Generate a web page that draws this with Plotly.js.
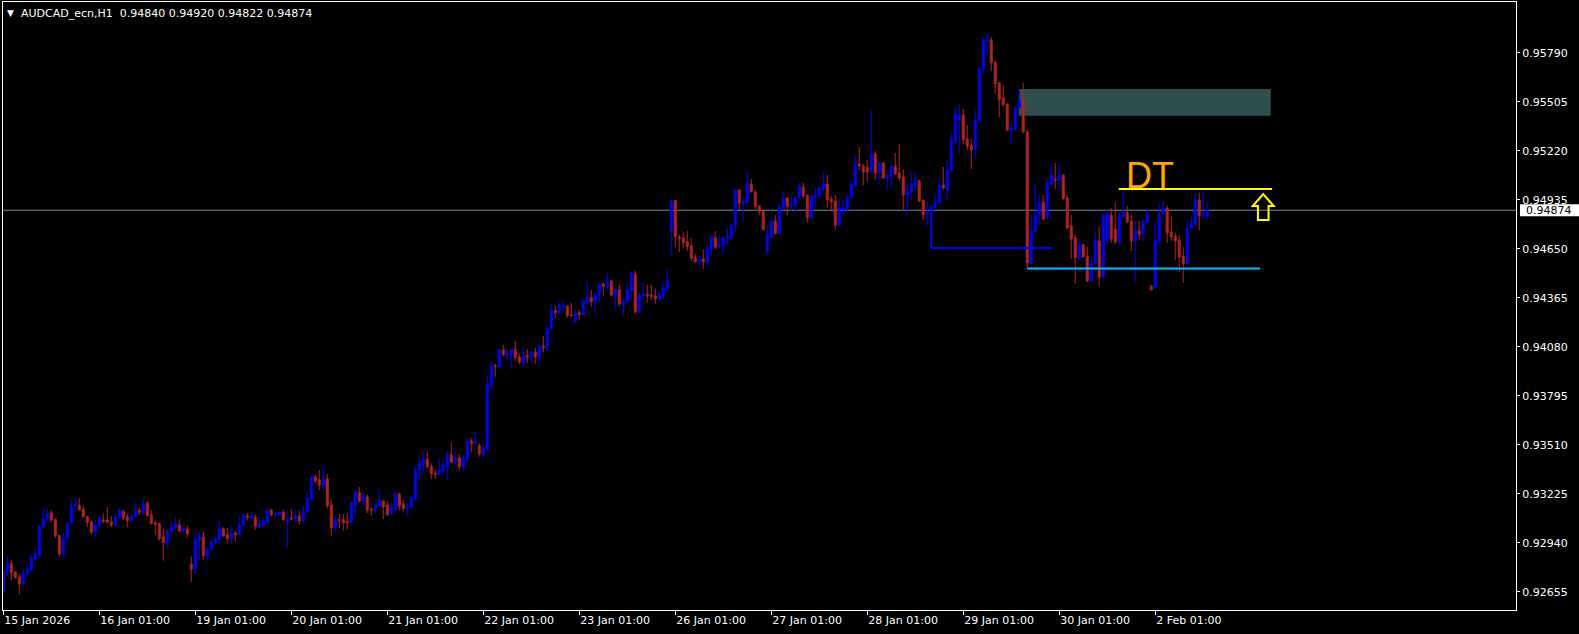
<!DOCTYPE html>
<html><head><meta charset="utf-8">
<script src="https://cdn.plot.ly/plotly-3.0.1.min.js"></script>
<style>html,body{margin:0;padding:0;background:#000;overflow:hidden}#chart{width:1579px;height:634px}</style>
</head><body><div id="chart"></div>
<script>
const symbolTitle = 'AUDCAD_ecn,H1\u00A0 0.94840 0.94920 0.94822 0.94874';
const lastPrice = 0.94874;

const openP = [
0.92655,0.92772,0.92820,0.92770,0.92741,0.92702,0.92762,0.92785,0.92847,0.92869,
0.93030,0.93076,0.93113,0.93076,0.92983,0.92876,0.92962,0.93053,0.93154,0.93159,
0.93136,0.93092,0.93061,0.93002,0.93041,0.93072,0.93072,0.93061,0.93041,0.93088,
0.93123,0.93090,0.93068,0.93092,0.93126,0.93115,0.93171,0.93101,0.93057,0.93051,
0.92975,0.92937,0.93006,0.93026,0.93043,0.93010,0.93020,0.92816,0.92787,0.92952,
0.92973,0.92865,0.92900,0.92940,0.92960,0.93020,0.92985,0.92962,0.92997,0.92987,
0.93041,0.93096,0.93086,0.93088,0.93032,0.93041,0.93057,0.93131,0.93103,0.93103,
0.93117,0.93067,0.93084,0.93080,0.93096,0.93067,0.93121,0.93192,0.93322,0.93307,
0.93274,0.93311,0.93160,0.93028,0.93074,0.93074,0.93063,0.93057,0.93160,0.93230,
0.93183,0.93206,0.93135,0.93133,0.93156,0.93183,0.93160,0.93109,0.93133,0.93224,
0.93166,0.93139,0.93148,0.93195,0.93360,0.93394,0.93427,0.93385,0.93344,0.93338,
0.93361,0.93387,0.93451,0.93410,0.93433,0.93381,0.93427,0.93532,0.93517,0.93505,
0.93451,0.93484,0.93858,0.93970,0.93963,0.94062,0.94034,0.94034,0.94062,0.94021,
0.93992,0.94029,0.94023,0.94050,0.94021,0.94085,0.94075,0.94186,0.94288,0.94275,
0.94312,0.94317,0.94265,0.94226,0.94277,0.94265,0.94343,0.94368,0.94343,0.94383,
0.94445,0.94426,0.94463,0.94377,0.94411,0.94323,0.94343,0.94405,0.94503,0.94282,
0.94377,0.94387,0.94381,0.94376,0.94358,0.94381,0.94416,0.94750,0.94930,0.94719,
0.94711,0.94690,0.94666,0.94602,0.94573,0.94590,0.94573,0.94646,0.94714,0.94660,
0.94672,0.94708,0.94714,0.94784,0.94992,0.94916,0.94916,0.95026,0.94980,0.94898,
0.94869,0.94639,0.94714,0.94811,0.94737,0.94889,0.94945,0.94898,0.94904,0.94945,
0.95009,0.94962,0.94831,0.94951,0.94957,0.94997,0.95026,0.94939,0.94928,0.94788,
0.94875,0.94881,0.94945,0.95015,0.95143,0.95131,0.95125,0.95096,0.95201,0.95090,
0.95149,0.95061,0.95073,0.95131,0.95090,0.95067,0.94963,0.94975,0.95021,0.95045,
0.94934,0.94847,0.94864,0.94893,0.94917,0.95021,0.94992,0.95103,0.95277,0.95399,
0.95428,0.95289,0.95254,0.95225,0.95394,0.95696,0.95859,0.95865,0.95733,0.95615,
0.95527,0.95492,0.95341,0.95347,0.95469,0.95516,0.95330,0.94568,0.94750,0.94843,
0.94922,0.94829,0.95027,0.95056,0.95050,0.95079,0.94946,0.94783,0.94713,0.94591,
0.94672,0.94608,0.94463,0.94566,0.94695,0.94486,0.94701,0.94847,0.94765,0.94690,
0.94835,0.94858,0.94812,0.94695,0.94754,0.94740,0.94806,0.94434,0.94422,0.94692,
0.94853,0.94887,0.94748,0.94724,0.94701,0.94608,0.94562,0.94771,0.94789,0.94934,
0.94841,0.94840];

const highP = [
0.92781,0.92863,0.92836,0.92774,0.92760,0.92785,0.92809,0.92878,0.92902,0.93037,
0.93142,0.93134,0.93130,0.93082,0.92983,0.92995,0.93057,0.93185,0.93204,0.93200,
0.93157,0.93095,0.93072,0.93072,0.93095,0.93111,0.93148,0.93095,0.93111,0.93142,
0.93132,0.93107,0.93099,0.93177,0.93146,0.93200,0.93181,0.93130,0.93068,0.93057,
0.93018,0.93014,0.93061,0.93088,0.93076,0.93037,0.93041,0.92859,0.93008,0.93006,
0.93003,0.92921,0.92966,0.92983,0.93072,0.93030,0.93026,0.93037,0.93010,0.93099,
0.93105,0.93113,0.93123,0.93105,0.93090,0.93088,0.93131,0.93134,0.93117,0.93119,
0.93131,0.93127,0.93134,0.93131,0.93127,0.93154,0.93227,0.93332,0.93336,0.93363,
0.93375,0.93340,0.93195,0.93103,0.93107,0.93107,0.93113,0.93175,0.93239,0.93265,
0.93228,0.93220,0.93148,0.93166,0.93245,0.93183,0.93181,0.93172,0.93236,0.93230,
0.93189,0.93175,0.93212,0.93389,0.93445,0.93474,0.93474,0.93402,0.93367,0.93433,
0.93416,0.93474,0.93524,0.93472,0.93455,0.93449,0.93538,0.93546,0.93585,0.93519,
0.93515,0.93910,0.93990,0.93980,0.94067,0.94091,0.94062,0.94062,0.94114,0.94042,
0.94075,0.94065,0.94052,0.94073,0.94096,0.94143,0.94199,0.94329,0.94319,0.94341,
0.94345,0.94317,0.94335,0.94298,0.94294,0.94364,0.94457,0.94411,0.94389,0.94451,
0.94453,0.94509,0.94467,0.94418,0.94440,0.94364,0.94445,0.94521,0.94521,0.94397,
0.94457,0.94440,0.94440,0.94420,0.94401,0.94457,0.94531,0.94935,0.94935,0.94732,
0.94750,0.94754,0.94712,0.94619,0.94608,0.94648,0.94672,0.94741,0.94753,0.94730,
0.94724,0.94770,0.94794,0.94992,0.94992,0.94951,0.95102,0.95055,0.94992,0.94904,
0.94869,0.94782,0.94829,0.94846,0.94910,0.94986,0.94951,0.94957,0.94960,0.95032,
0.95032,0.94962,0.94962,0.95007,0.95015,0.95102,0.95079,0.94957,0.94962,0.94945,
0.94933,0.94968,0.95038,0.95195,0.95242,0.95143,0.95166,0.95457,0.95218,0.95160,
0.95155,0.95079,0.95137,0.95207,0.95259,0.95114,0.95027,0.95097,0.95091,0.95050,
0.94934,0.94928,0.94899,0.94969,0.95056,0.95126,0.95161,0.95324,0.95475,0.95492,
0.95463,0.95370,0.95289,0.95458,0.95708,0.95876,0.95905,0.95882,0.95748,0.95615,
0.95603,0.95492,0.95382,0.95475,0.95574,0.95615,0.95341,0.94847,0.95027,0.94969,
0.94963,0.95062,0.95143,0.95149,0.95137,0.95079,0.94963,0.94847,0.94730,0.94707,
0.94678,0.94661,0.94597,0.94754,0.94777,0.94847,0.94876,0.94887,0.94922,0.94864,
0.94992,0.94899,0.94847,0.94812,0.94812,0.94818,0.94887,0.94434,0.94806,0.94922,
0.94928,0.94899,0.94841,0.94742,0.94730,0.94661,0.94812,0.94841,0.94969,0.94975,
0.94986,0.94920];

const lowP = [
0.92642,0.92746,0.92719,0.92731,0.92638,0.92692,0.92746,0.92774,0.92836,0.92847,
0.93022,0.93068,0.93061,0.92967,0.92859,0.92855,0.92960,0.93049,0.93134,0.93126,
0.93084,0.93033,0.92991,0.92971,0.93030,0.93053,0.93053,0.93030,0.93037,0.93080,
0.93072,0.93030,0.93061,0.93088,0.93101,0.93103,0.93092,0.93047,0.92987,0.92952,
0.92836,0.92905,0.92998,0.93018,0.93002,0.92995,0.92968,0.92712,0.92762,0.92840,
0.92840,0.92830,0.92890,0.92933,0.92933,0.92975,0.92935,0.92940,0.92946,0.92983,
0.93037,0.93068,0.93076,0.93016,0.93026,0.93034,0.93053,0.93096,0.93090,0.93099,
0.93068,0.92906,0.93068,0.93057,0.93045,0.93051,0.93117,0.93189,0.93286,0.93247,
0.93243,0.93138,0.92981,0.92999,0.93026,0.93010,0.93018,0.93040,0.93088,0.93173,
0.93160,0.93113,0.93096,0.93108,0.93150,0.93078,0.93102,0.93106,0.93127,0.93127,
0.93119,0.93098,0.93139,0.93187,0.93305,0.93344,0.93375,0.93309,0.93313,0.93332,
0.93346,0.93301,0.93402,0.93391,0.93360,0.93360,0.93406,0.93468,0.93515,0.93441,
0.93449,0.93480,0.93835,0.93901,0.93951,0.94023,0.93994,0.93951,0.93994,0.93980,
0.93959,0.93984,0.93992,0.93980,0.93982,0.94046,0.94056,0.94178,0.94248,0.94271,
0.94298,0.94248,0.94252,0.94219,0.94236,0.94261,0.94329,0.94314,0.94271,0.94335,
0.94372,0.94411,0.94372,0.94300,0.94317,0.94261,0.94333,0.94352,0.94273,0.94275,
0.94358,0.94337,0.94352,0.94331,0.94348,0.94352,0.94412,0.94614,0.94659,0.94630,
0.94651,0.94639,0.94579,0.94573,0.94549,0.94532,0.94549,0.94610,0.94648,0.94654,
0.94625,0.94672,0.94695,0.94749,0.94865,0.94811,0.94916,0.94980,0.94881,0.94848,
0.94761,0.94610,0.94714,0.94737,0.94737,0.94865,0.94842,0.94869,0.94854,0.94945,
0.94945,0.94801,0.94819,0.94889,0.94947,0.94992,0.94889,0.94865,0.94761,0.94784,
0.94842,0.94869,0.94941,0.95011,0.95108,0.95021,0.95038,0.95092,0.95052,0.95021,
0.95061,0.94992,0.95009,0.95085,0.95044,0.94880,0.94841,0.94928,0.94992,0.94922,
0.94818,0.94783,0.94864,0.94882,0.94911,0.94992,0.94940,0.95099,0.95260,0.95202,
0.95260,0.95225,0.95114,0.95172,0.95394,0.95661,0.95783,0.95684,0.95551,0.95417,
0.95481,0.95335,0.95266,0.95341,0.95469,0.95324,0.94533,0.94562,0.94750,0.94789,
0.94818,0.94829,0.95027,0.94998,0.94992,0.94940,0.94765,0.94591,0.94445,0.94585,
0.94597,0.94457,0.94457,0.94560,0.94434,0.94480,0.94678,0.94684,0.94678,0.94678,
0.94835,0.94800,0.94637,0.94457,0.94701,0.94695,0.94794,0.94410,0.94422,0.94684,
0.94847,0.94684,0.94695,0.94585,0.94515,0.94451,0.94556,0.94771,0.94789,0.94759,
0.94823,0.94822];

const closeP = [
0.92776,0.92820,0.92766,0.92737,0.92700,0.92762,0.92787,0.92851,0.92874,0.93037,
0.93082,0.93107,0.93072,0.92979,0.92874,0.92967,0.93053,0.93157,0.93161,0.93132,
0.93092,0.93057,0.93002,0.93043,0.93072,0.93064,0.93057,0.93043,0.93088,0.93130,
0.93086,0.93068,0.93095,0.93125,0.93119,0.93165,0.93099,0.93051,0.93047,0.92964,
0.92942,0.93008,0.93030,0.93049,0.93008,0.93022,0.92991,0.92787,0.92956,0.92973,
0.92865,0.92902,0.92944,0.92962,0.93020,0.92979,0.92964,0.92997,0.92985,0.93041,
0.93101,0.93086,0.93096,0.93037,0.93049,0.93061,0.93125,0.93101,0.93107,0.93117,
0.93074,0.93080,0.93078,0.93096,0.93067,0.93125,0.93200,0.93322,0.93299,0.93276,
0.93309,0.93154,0.93028,0.93072,0.93068,0.93057,0.93057,0.93172,0.93236,0.93183,
0.93206,0.93131,0.93129,0.93158,0.93189,0.93148,0.93102,0.93142,0.93224,0.93154,
0.93139,0.93154,0.93201,0.93363,0.93402,0.93422,0.93381,0.93342,0.93340,0.93363,
0.93391,0.93451,0.93408,0.93433,0.93383,0.93433,0.93532,0.93517,0.93526,0.93457,
0.93486,0.93864,0.93968,0.93965,0.94062,0.94034,0.94042,0.94062,0.94017,0.93992,
0.94027,0.94019,0.94050,0.94023,0.94085,0.94073,0.94189,0.94294,0.94279,0.94317,
0.94317,0.94261,0.94261,0.94275,0.94267,0.94345,0.94368,0.94343,0.94385,0.94445,
0.94430,0.94461,0.94381,0.94411,0.94329,0.94346,0.94411,0.94509,0.94282,0.94381,
0.94387,0.94376,0.94372,0.94358,0.94385,0.94422,0.94463,0.94930,0.94721,0.94707,
0.94686,0.94663,0.94596,0.94573,0.94590,0.94573,0.94648,0.94714,0.94660,0.94677,
0.94714,0.94720,0.94788,0.94992,0.94916,0.94922,0.95026,0.94980,0.94893,0.94865,
0.94761,0.94730,0.94811,0.94737,0.94893,0.94945,0.94898,0.94910,0.94945,0.95015,
0.94957,0.94831,0.94957,0.94962,0.95003,0.95026,0.94933,0.94924,0.94788,0.94887,
0.94887,0.94951,0.95026,0.95149,0.95131,0.95096,0.95096,0.95201,0.95090,0.95149,
0.95061,0.95079,0.95131,0.95085,0.95061,0.94963,0.94981,0.95027,0.95045,0.94928,
0.94847,0.94864,0.94899,0.94922,0.95021,0.95004,0.95108,0.95277,0.95434,0.95423,
0.95283,0.95248,0.95225,0.95399,0.95702,0.95865,0.95865,0.95733,0.95609,0.95516,
0.95487,0.95341,0.95353,0.95469,0.95516,0.95330,0.94568,0.94754,0.94847,0.94917,
0.94823,0.95033,0.95079,0.95050,0.95079,0.94940,0.94771,0.94707,0.94597,0.94672,
0.94602,0.94463,0.94566,0.94695,0.94486,0.94847,0.94853,0.94707,0.94690,0.94841,
0.94858,0.94806,0.94695,0.94754,0.94736,0.94812,0.94847,0.94410,0.94701,0.94853,
0.94887,0.94742,0.94719,0.94695,0.94602,0.94562,0.94771,0.94794,0.94934,0.94841,
0.94847,0.94874];

// time axis: one label every 24 H1 bars
const dayTickBars = [0,24,48,72,96,120,144,168,192,216,240,264,288];
const dayTickLabels = ['15 Jan 2026','16 Jan 01:00','19 Jan 01:00','20 Jan 01:00','21 Jan 01:00',
  '22 Jan 01:00','23 Jan 01:00','26 Jan 01:00','27 Jan 01:00','28 Jan 01:00','29 Jan 01:00',
  '30 Jan 01:00','2 Feb 01:00'];
const priceTicks = [0.92655,0.92940,0.93225,0.93510,0.93795,0.94080,0.94365,0.94650,0.94935,0.95220,0.95505,0.95790];
const priceTickLabels = priceTicks.map(v => v.toFixed(5));

// drawn objects (price levels, bar positions)
const zoneBars = [253.9, 316.9], zonePrices = [0.95423, 0.95580];
const dtLevel = 0.94998, dtBars = [278.9, 317.2];
const supportLevel = 0.94535, supportBars = [256, 314.2];
const neckTop = 0.94860, neckLevel = 0.94655, neckBars = [232, 262.2];
const arrowBar = 315, arrowPrice = 0.94968;
const dtLabelBar = 280.2, dtLabelPrice = 0.95079;

const n = closeP.length;
if (openP.length!==n || highP.length!==n || lowP.length!==n) {
  document.body.innerHTML = '<pre style="color:#fff">length mismatch '+[openP.length,highP.length,lowP.length,n].join(',')+'</pre>';
}
const bars = [];
for (let i = 0; i < n; i++) bars.push(i);

const FONT = 'DejaVu Sans, Verdana, sans-serif';

const trace = {
  type: 'candlestick',
  x: bars, open: openP, high: highP, low: lowP, close: closeP,
  increasing: {line: {color: '#0000FF', width: 1}, fillcolor: '#0000FF'},
  decreasing: {line: {color: '#B22222', width: 1}, fillcolor: '#B22222'},
  whiskerwidth: 0,
  hoverinfo: 'skip',
  showlegend: false
};

const pxX = 1 / 1513;
const shapes = [
  {type:'rect', xref:'x', yref:'y', x0:zoneBars[0], x1:zoneBars[1], y0:zonePrices[0], y1:zonePrices[1],
   fillcolor:'#2F4F4F', line:{width:0}, layer:'below'},
  {type:'line', xref:'paper', yref:'y', x0:0, x1:1, y0:lastPrice, y1:lastPrice,
   line:{color:'#778899', width:1}, layer:'below'},
  {type:'line', xref:'x', yref:'y', x0:dtBars[0], x1:dtBars[1], y0:dtLevel, y1:dtLevel,
   line:{color:'#FFFF00', width:2}},
  {type:'line', xref:'x', yref:'y', x0:supportBars[0], x1:supportBars[1], y0:supportLevel, y1:supportLevel,
   line:{color:'#00BFFF', width:2}},
  {type:'line', xref:'x', yref:'y', x0:neckBars[0], x1:neckBars[0], y0:neckTop, y1:neckLevel,
   line:{color:'#0000FF', width:2}},
  {type:'line', xref:'x', yref:'y', x0:neckBars[0], x1:neckBars[1], y0:neckLevel, y1:neckLevel,
   line:{color:'#0000FF', width:2}},
  {type:'path', xref:'x', yref:'y', xsizemode:'pixel', ysizemode:'pixel', xanchor:arrowBar, yanchor:arrowPrice,
   path:'M 0 0 L 10.5 -12 L 5.3 -12 L 5.3 -26 L -5.3 -26 L -5.3 -12 L -10.5 -12 Z',
   line:{color:'#FFFF00', width:2}, fillcolor:'rgba(0,0,0,0)'},
  {type:'rect', xref:'paper', yref:'y', x0:1 + 4*pxX, x1:1 + 70*pxX, y0:lastPrice - 0.00035, y1:lastPrice + 0.00035,
   fillcolor:'#FFFFFF', line:{width:0}, layer:'above'}
];

const annotations = [
  {xref:'paper', yref:'paper', x:(10.5-3)*pxX, y:1-(13-2)/608, text:'\u25BC', showarrow:false,
   font:{family:FONT, size:9, color:'#FFFFFF'}, xanchor:'center', yanchor:'middle'},
  {xref:'x', yref:'y', x:dtLabelBar, y:dtLabelPrice, text:'DT', showarrow:false, xanchor:'left', yanchor:'middle',
   font:{family:'Liberation Sans, Arial, sans-serif', size:36, color:'#FFA500'}},
  {xref:'paper', yref:'y', x:1 + 8*pxX, y:lastPrice, text:lastPrice.toFixed(5), showarrow:false,
   xanchor:'left', yanchor:'middle', font:{family:FONT, size:11, color:'#000000'}}
];

const layout = {
  width: 1579, height: 634,
  paper_bgcolor: '#000000', plot_bgcolor: '#000000',
  margin: {l:3, r:63, t:2, b:24, pad:0},
  showlegend: false,
  title: {text: symbolTitle, font:{family:FONT, size:11, color:'#FFFFFF'},
          xref:'container', yref:'container', x:21/1579, xanchor:'left', y:1-13/634, yanchor:'middle'},
  xaxis: {
    range: [-0.075, 378.2], tickmode:'array', tickvals: dayTickBars, ticktext: dayTickLabels,
    ticks:'outside', ticklen:4, tickwidth:1, tickcolor:'#FFFFFF',
    showline:true, linecolor:'#FFFFFF', linewidth:1, mirror:true,
    showgrid:false, zeroline:false, rangeslider:{visible:false}, fixedrange:true,
    ticklabelposition:'outside right',
    tickfont:{family:FONT, size:11, color:'#FFFFFF'}
  },
  yaxis: {
    side:'right', range:[0.925486, 0.960854], tickmode:'array', tickvals: priceTicks, ticktext: priceTickLabels,
    ticks:'outside', ticklen:3, tickwidth:1, tickcolor:'#FFFFFF',
    showline:true, linecolor:'#FFFFFF', linewidth:1, mirror:true,
    showgrid:false, zeroline:false, fixedrange:true,
    tickfont:{family:FONT, size:11, color:'#FFFFFF'}
  },
  shapes: shapes,
  annotations: annotations,
  hovermode: false
};

Plotly.newPlot('chart', [trace], layout, {displayModeBar:false, staticPlot:true});
</script>
</body></html>
